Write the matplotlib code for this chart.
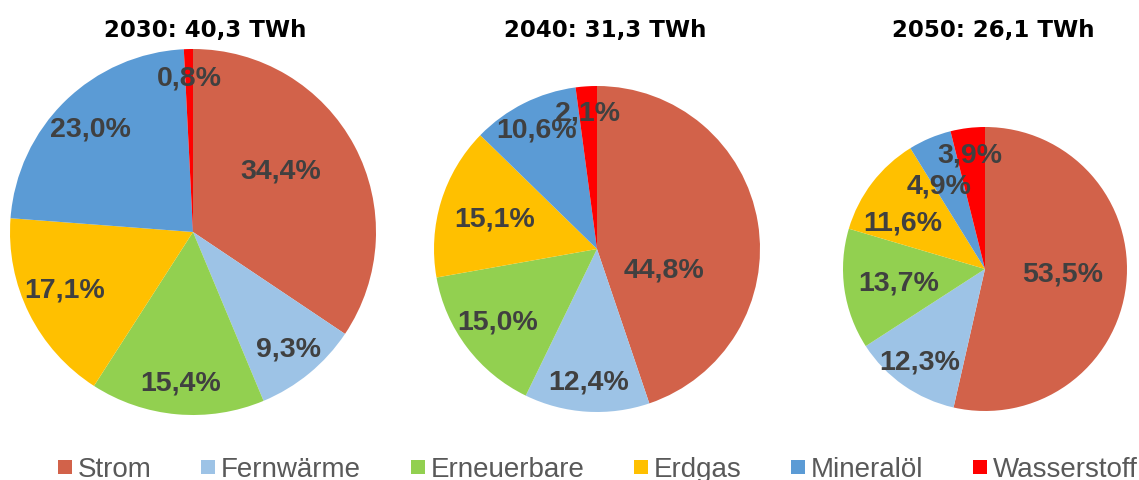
import matplotlib.pyplot as plt
from matplotlib.lines import Line2D

# data
categories = ['Strom', 'Fernwärme', 'Erneuerbare', 'Erdgas', 'Mineralöl', 'Wasserstoff']
titles = ['2030: 40,3 TWh', '2040: 31,3 TWh', '2050: 26,1 TWh']
share_2030 = [34.4, 9.3, 15.4, 17.1, 23.0, 0.8]
share_2040 = [44.8, 12.4, 15.0, 15.1, 10.6, 2.1]
share_2050 = [53.5, 12.3, 13.7, 11.6, 4.9, 3.9]

colors = ['#D2624A', '#9DC3E6', '#92D050', '#FFC000', '#5B9BD5', '#FF0000']

# layout (pixels, y measured from the top)
centers = [(193, 232), (597, 249), (985, 269)]
radii = [183, 163, 142]
title_x = [205, 605, 993]
# label offsets from pie centre, in units of radius (Excel "best fit")
label_off = [
    [(0.48, -0.33), (0.52, 0.64), (-0.07, 0.83), (-0.70, 0.32), (-0.56, -0.56), (-0.02, -0.84)],
    [(0.41, 0.13), (-0.05, 0.82), (-0.61, 0.45), (-0.63, -0.18), (-0.37, -0.73), (-0.06, -0.83)],
    [(0.55, 0.04), (-0.46, 0.66), (-0.61, 0.10), (-0.58, -0.32), (-0.32, -0.58), (-0.11, -0.80)],
]

W, H = 1139, 480
fig = plt.figure(figsize=(W / 100, H / 100), dpi=100)
ax = fig.add_axes([0, 0, 1, 1])

for shares, (cx, cy), r, offs, t, tx in zip([share_2030, share_2040, share_2050],
                                            centers, radii, label_off, titles, title_x):
    ax.pie(shares, colors=colors, startangle=90, counterclock=False,
           center=(cx, H - cy), radius=r, wedgeprops=dict(linewidth=0))
    for v, (ox, oy) in zip(shares, offs):
        ax.text(cx + ox * r, H - cy - oy * r, f'{v:.1f}%'.replace('.', ','),
                ha='center', va='center', fontsize=20.5, fontweight='bold',
                color='#404040', family='Liberation Sans')
    ax.text(tx, H - 30, t, ha='center', va='center', fontsize=16.5,
            fontweight='bold', color='black', family='DejaVu Sans')

ax.set_xlim(0, W)
ax.set_ylim(0, H)
ax.set_aspect('auto')
ax.axis('off')

handles = [Line2D([], [], marker='s', linestyle='none', markersize=10,
                  markerfacecolor=c, markeredgewidth=0) for c in colors]
fig.legend(handles, categories, loc='center', bbox_to_anchor=(598 / W, 10 / H),
           ncol=6, frameon=False, handlelength=0.5, handletextpad=0.2,
           columnspacing=1.8, borderpad=0, labelcolor='#595959',
           prop=dict(family='Liberation Sans', size=20))

fig.savefig('out.png', dpi=100)
